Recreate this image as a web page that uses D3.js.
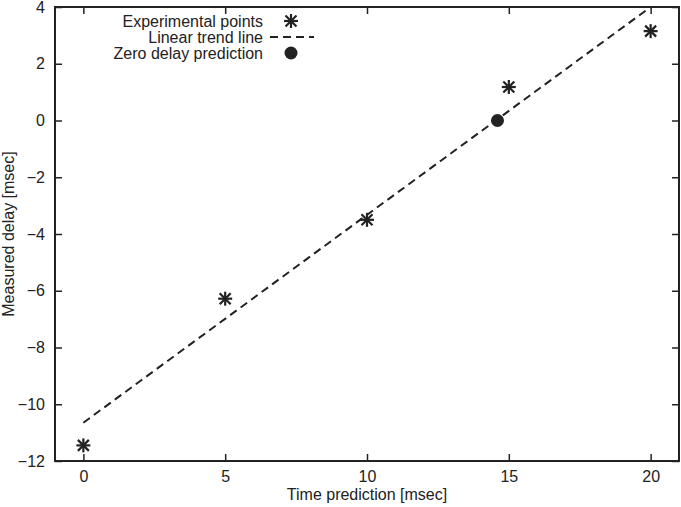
<!DOCTYPE html>
<html>
<head>
<style>
  body { margin: 0; background: #fff; }
  svg { display: block; font-family: "Liberation Sans", Arial, sans-serif; }
  .frame { fill: none; stroke: #222; stroke-width: 2px; }
  .tick line { stroke: #222; stroke-width: 1.5px; }
  .tick text { font-size: 16px; fill: #222; font-family: "Liberation Sans", Arial, sans-serif; }
  .label { font-size: 16px; fill: #222; }
  .trend { fill: none; stroke: #222; stroke-width: 2px; stroke-dasharray: 8,5; }
  .star line { stroke: #222; stroke-width: 2.2px; }
</style>
<script src="https://d3js.org/d3.v7.min.js"></script>
</head>
<body>
<svg width="681" height="507"></svg>
<script>
var xTicks = [0, 5, 10, 15, 20];
var yTicks = [-12, -10, -8, -6, -4, -2, 0, 2, 4];
var expX = [0, 5, 10, 15, 20];
var expY = [-11.45, -6.28, -3.5, 1.18, 3.15];
var trendX = [0, 20];
var trendY = [-10.65, 4.0];
var zeroX = [14.6];
var zeroY = [0];
var legendLabels = ["Experimental points", "Linear trend line", "Zero delay prediction"];

var svg = d3.select("svg");
var plotLeft = 55, plotRight = 679, plotTop = 7, plotBottom = 461;

var x = d3.scaleLinear().domain([-1, 21]).range([plotLeft, plotRight]);
var y = d3.scaleLinear().domain([-12, 4]).range([plotBottom, plotTop]);

function fmt(d) { return d < 0 ? "\u2212" + Math.abs(d) : String(d); }

// ticks point inward on all four sides
svg.append("g")
  .attr("transform", "translate(0," + plotBottom + ")")
  .call(d3.axisBottom(x).tickValues(xTicks).tickSizeInner(-7).tickSizeOuter(0).tickPadding(10).tickFormat(fmt))
  .call(function(g) { g.select(".domain").remove(); });

svg.append("g")
  .attr("transform", "translate(0," + plotTop + ")")
  .call(d3.axisTop(x).tickValues(xTicks).tickSizeInner(-7).tickSizeOuter(0).tickFormat(""))
  .call(function(g) { g.select(".domain").remove(); });

svg.append("g")
  .attr("transform", "translate(" + plotLeft + ",0)")
  .call(d3.axisLeft(y).tickValues(yTicks).tickSizeInner(-7).tickSizeOuter(0).tickPadding(10).tickFormat(fmt))
  .call(function(g) { g.select(".domain").remove(); });

svg.append("g")
  .attr("transform", "translate(" + plotRight + ",0)")
  .call(d3.axisRight(y).tickValues(yTicks).tickSizeInner(-7).tickSizeOuter(0).tickFormat(""))
  .call(function(g) { g.select(".domain").remove(); });

svg.append("rect").attr("class", "frame")
  .attr("x", plotLeft).attr("y", plotTop)
  .attr("width", plotRight - plotLeft).attr("height", plotBottom - plotTop);

// axis titles
svg.append("text").attr("class", "label")
  .attr("x", x(10)).attr("y", 500)
  .attr("text-anchor", "middle")
  .text("Time prediction [msec]");

svg.append("text").attr("class", "label")
  .attr("transform", "translate(14," + y(-4) + ") rotate(-90)")
  .attr("text-anchor", "middle")
  .text("Measured delay [msec]");

// trend line
var line = d3.line()
  .x(function(d) { return x(d[0]); })
  .y(function(d) { return y(d[1]); });

svg.append("path").attr("class", "trend")
  .attr("d", line(d3.zip(trendX, trendY)));

// asterisk markers
function star(g, cx, cy) {
  var s = 7, d = 5.5;
  var st = g.append("g").attr("class", "star").attr("transform", "translate(" + cx + "," + cy + ")");
  st.append("line").attr("x1", -s).attr("y1", 0).attr("x2", s).attr("y2", 0);
  st.append("line").attr("x1", 0).attr("y1", -s).attr("x2", 0).attr("y2", s);
  st.append("line").attr("x1", -d).attr("y1", -d).attr("x2", d).attr("y2", d);
  st.append("line").attr("x1", -d).attr("y1", d).attr("x2", d).attr("y2", -d);
}

expX.forEach(function(v, i) { star(svg, x(v), y(expY[i])); });

svg.selectAll("circle.zero")
  .data(zeroX)
  .enter()
  .append("circle")
  .attr("class", "zero")
  .attr("cx", function(d) { return x(d); })
  .attr("cy", function(d, i) { return y(zeroY[i]); })
  .attr("r", 6.5)
  .attr("fill", "#222");

// legend
var legendRows = [21, 37, 53];
svg.selectAll("text.legend")
  .data(legendLabels)
  .enter()
  .append("text")
  .attr("class", "label legend")
  .attr("x", 263)
  .attr("y", function(d, i) { return legendRows[i]; })
  .attr("dy", "0.35em")
  .attr("text-anchor", "end")
  .text(function(d) { return d; });

star(svg, 291, legendRows[0]);
svg.append("line").attr("class", "trend")
  .attr("x1", 270).attr("x2", 314)
  .attr("y1", legendRows[1]).attr("y2", legendRows[1]);
svg.append("circle").attr("cx", 291).attr("cy", legendRows[2]).attr("r", 6.5).attr("fill", "#222");
</script>
</body>
</html>
